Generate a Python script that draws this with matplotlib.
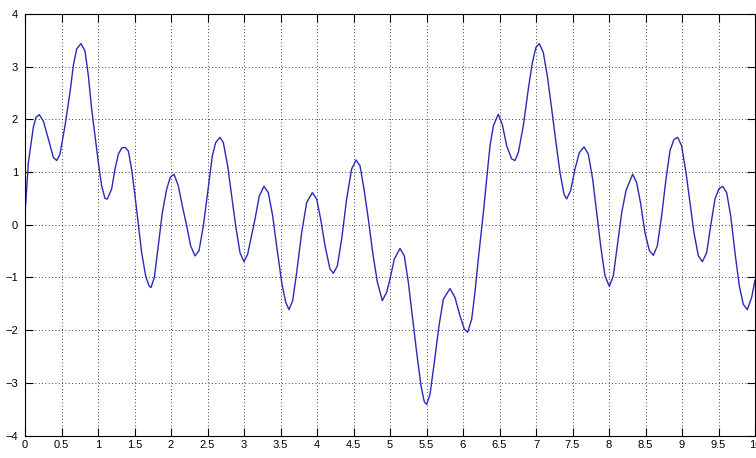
import numpy as np
import matplotlib.pyplot as plt

# werte
t = [0.000, 0.046, 0.091, 0.114, 0.151, 0.196, 0.251, 0.320, 0.388, 0.434,
     0.479, 0.548, 0.616, 0.662, 0.708, 0.767, 0.822, 0.868, 0.913, 0.959,
     1.005, 1.050, 1.096, 1.128, 1.187, 1.233, 1.279, 1.325, 1.370, 1.416,
     1.461, 1.507, 1.553, 1.598, 1.653, 1.699, 1.726, 1.772, 1.826, 1.881,
     1.941, 1.990, 2.041, 2.100, 2.155, 2.215, 2.269, 2.329, 2.384, 2.443,
     2.502, 2.566, 2.612, 2.671, 2.717, 2.776, 2.831, 2.886, 2.945, 3.000,
     3.050, 3.105, 3.151, 3.210, 3.274, 3.333, 3.393, 3.447, 3.516, 3.571,
     3.616, 3.667, 3.721, 3.790, 3.858, 3.936, 3.995, 4.050, 4.110, 4.178,
     4.224, 4.279, 4.338, 4.406, 4.475, 4.534, 4.589, 4.644, 4.703, 4.763,
     4.827, 4.895, 4.954, 5.000, 5.059, 5.137, 5.196, 5.251, 5.306, 5.365,
     5.425, 5.470, 5.502, 5.548, 5.607, 5.671, 5.731, 5.822, 5.890, 5.959,
     6.018, 6.064, 6.119, 6.164, 6.219, 6.279, 6.324, 6.370, 6.416, 6.484,
     6.539, 6.598, 6.667, 6.712, 6.758, 6.826, 6.895, 6.950, 7.000, 7.046,
     7.100, 7.155, 7.215, 7.274, 7.329, 7.384, 7.420, 7.475, 7.534, 7.594,
     7.658, 7.717, 7.776, 7.831, 7.886, 7.945, 8.005, 8.059, 8.114, 8.174,
     8.233, 8.324, 8.379, 8.434, 8.493, 8.553, 8.607, 8.662, 8.721, 8.781,
     8.836, 8.890, 8.941, 8.995, 9.055, 9.110, 9.164, 9.224, 9.279, 9.338,
     9.393, 9.452, 9.505, 9.557, 9.612, 9.667, 9.726, 9.785, 9.840, 9.895,
     9.954, 10.000]

y = [0.20, 1.18, 1.63, 1.85, 2.04, 2.09, 1.97, 1.63, 1.28, 1.22,
     1.34, 1.88, 2.51, 3.02, 3.34, 3.44, 3.30, 2.83, 2.20, 1.69,
     1.18, 0.74, 0.50, 0.49, 0.68, 1.06, 1.34, 1.46, 1.47, 1.40,
     1.05, 0.55, 0.00, -0.53, -0.97, -1.16, -1.19, -1.00, -0.40, 0.23,
     0.68, 0.90, 0.96, 0.74, 0.36, -0.02, -0.40, -0.59, -0.49, -0.02,
     0.61, 1.31, 1.56, 1.66, 1.56, 1.12, 0.55, -0.02, -0.53, -0.70,
     -0.56, -0.20, 0.11, 0.55, 0.73, 0.61, 0.17, -0.40, -1.09, -1.47,
     -1.61, -1.44, -0.91, -0.15, 0.42, 0.61, 0.49, 0.11, -0.40, -0.84,
     -0.92, -0.78, -0.27, 0.49, 1.06, 1.23, 1.12, 0.68, 0.11, -0.53,
     -1.09, -1.44, -1.28, -1.03, -0.65, -0.45, -0.59, -1.09, -1.73, -2.42,
     -3.06, -3.36, -3.41, -3.22, -2.61, -1.92, -1.41, -1.21, -1.38, -1.73,
     -1.98, -2.04, -1.79, -1.28, -0.53, 0.23, 0.87, 1.50, 1.88, 2.10,
     1.90, 1.50, 1.25, 1.22, 1.37, 1.88, 2.58, 3.08, 3.37, 3.44,
     3.27, 2.83, 2.20, 1.56, 0.99, 0.58, 0.49, 0.65, 1.06, 1.37,
     1.48, 1.34, 0.87, 0.23, -0.40, -0.97, -1.17, -0.97, -0.40, 0.23,
     0.65, 0.96, 0.80, 0.40, -0.15, -0.49, -0.58, -0.40, 0.17, 0.87,
     1.41, 1.62, 1.66, 1.50, 0.99, 0.42, -0.15, -0.59, -0.70, -0.53,
     -0.02, 0.49, 0.68, 0.73, 0.61, 0.17, -0.53, -1.16, -1.51, -1.61,
     -1.38, -1.05]

x_ticks = np.arange(0, 10.5, 0.5)
x_labels = ['0', '0.5', '1', '1.5', '2', '2.5', '3', '3.5', '4', '4.5', '5',
            '5.5', '6', '6.5', '7', '7.5', '8', '8.5', '9', '9.5', '10']
y_ticks = [-4, -3, -2, -1, 0, 1, 2, 3, 4]

plt.rcParams['font.family'] = ['Liberation Sans', 'DejaVu Sans']

fig = plt.figure(figsize=(7.56, 4.58), dpi=100)
ax = fig.add_axes([25 / 756, 22.5 / 458, 730 / 756, 421.4 / 458])

ax.plot(t, y, color='#2a2ab8', linewidth=1.0)

ax.set_xlim(0, 10)
ax.set_ylim(-4, 4)
ax.set_xticks(x_ticks)
ax.set_xticklabels(x_labels)
ax.set_yticks(y_ticks)
ax.tick_params(direction='in', length=6, width=0.8, labelsize=8, top=True, right=True)
ax.tick_params(axis='x', pad=3)
ax.tick_params(axis='y', pad=5)
ax.grid(True, color='black', linestyle=(0, (1, 3)), linewidth=0.6)

plt.savefig('out.png', dpi=100)
